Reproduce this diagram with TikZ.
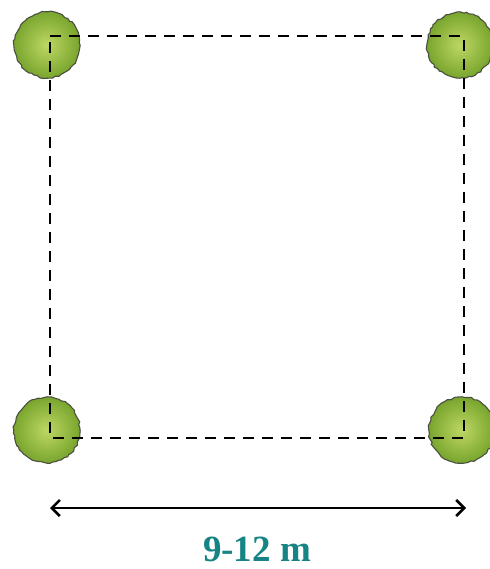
\documentclass[tikz,border=0pt]{standalone}
\usepackage{fontspec}
\setmainfont{Liberation Serif}
\usetikzlibrary{decorations.pathmorphing,arrows.meta}
\definecolor{leafdark}{RGB}{120,165,45}
\definecolor{leaflight}{RGB}{190,215,100}
\definecolor{rimgray}{RGB}{75,80,65}
\definecolor{labelteal}{RGB}{22,132,132}
\tikzset{
  tree/.style={circle, minimum size=66pt, inner sep=0pt,
    inner color=leaflight, outer color=leafdark,
    draw=rimgray, line width=1.1pt,
    decorate, decoration={random steps, segment length=3pt, amplitude=1pt}},
  plotline/.style={line width=2.8pt, dash pattern=on 11pt off 8pt},
  dimline/.style={line width=2.6pt, {Straight Barb[length=8pt,width=16pt]}-{Straight Barb[length=8pt,width=16pt]}},
  dimlabel/.style={font=\bfseries\fontsize{37}{40}\selectfont, text=labelteal}
}
\begin{document}
\begin{tikzpicture}[x=1pt,y=-1pt]
  \useasboundingbox (0,0) rectangle (489,569);
  % trees at the four corners of the planting square
  \node[tree] (tl) at (47,45) {};
  \node[tree] (tr) at (460,45) {};
  \node[tree] (bl) at (47,430) {};
  \node[tree] (br) at (462,430) {};
  % corners of the dashed square
  \coordinate (c1) at (50,36);
  \coordinate (c2) at (464,36);
  \coordinate (c3) at (464,438);
  \coordinate (c4) at (50,438);
  \draw[plotline] (c1) -- (c2) -- (c3) -- (c4) -- cycle;
  % spacing dimension
  \coordinate (a1) at (50,508);
  \coordinate (a2) at (466,508);
  \draw[dimline] (a1) -- (a2);
  \node[dimlabel] (lbl) at (257,549) {9-12 m};
\end{tikzpicture}
\end{document}
